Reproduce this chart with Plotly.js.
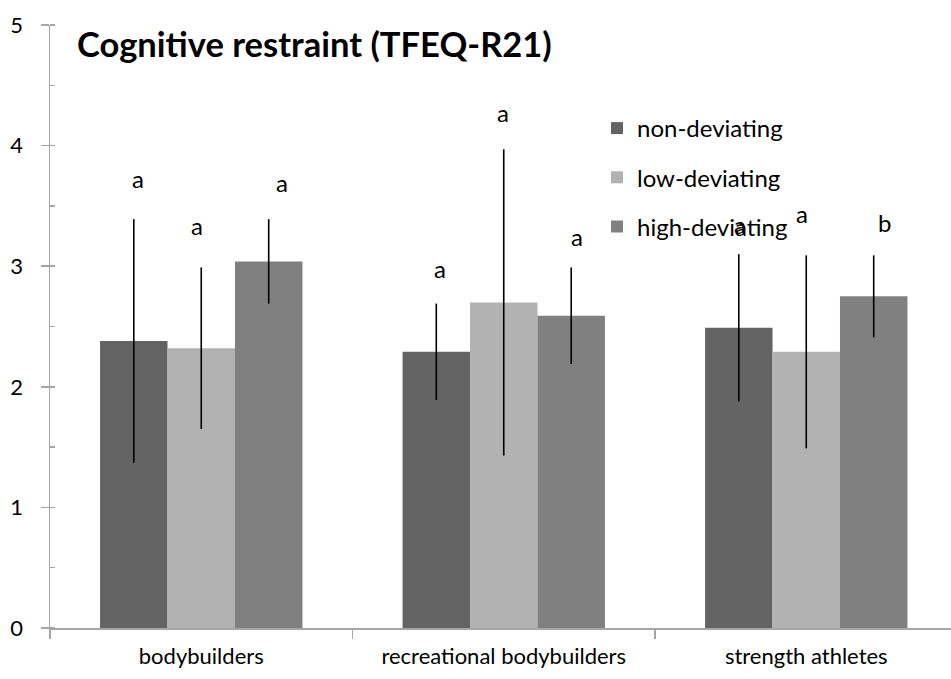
<!DOCTYPE html>
<html>
<head>
<meta charset="utf-8">
<script src="https://cdn.plot.ly/plotly-3.0.1.min.js"></script>
<style>html,body{margin:0;padding:0;background:#fff;}#chart{width:951px;height:679px;}</style>
</head>
<body>
<div id="chart"></div>
<script>
// ---- data ----
var categories = ["bodybuilders", "recreational bodybuilders", "strength athletes"];
var seriesNames = ["non-deviating", "low-deviating", "high-deviating"];
var nonDeviating = [2.38, 2.29, 2.49];
var nonDeviatingErr = [1.01, 0.40, 0.61];
var lowDeviating = [2.32, 2.70, 2.29];
var lowDeviatingErr = [0.67, 1.27, 0.80];
var highDeviating = [3.04, 2.59, 2.75];
var highDeviatingErr = [0.35, 0.40, 0.34];
var nonLetters = ["a", "a", "a"];
var lowLetters = ["a", "a", "a"];
var highLetters = ["a", "a", "b"];
var yTickVals = [0, 1, 2, 3, 4, 5];

// ---- style ----
var FONT = "Lato, 'Open Sans', sans-serif";
var colors = ["#636363", "#b2b2b2", "#808080"];
var values = [nonDeviating, lowDeviating, highDeviating];
var errs = [nonDeviatingErr, lowDeviatingErr, highDeviatingErr];
var letters = [nonLetters, lowLetters, highLetters];
// label nudges (pixels) per series per category
var labelXShift = [[4, 4, 1], [-4, -1, -4], [13, 6, 11]];
var labelYShift = [[41, 35, 30], [42, 37, 42], [37, 31, 33]];

var bargap = 0.331;
var barW = (1 - bargap) / 3;

var traces = [];
for (var s = 0; s < 3; s++) {
  traces.push({
    type: "bar",
    name: seriesNames[s],
    x: categories,
    y: values[s],
    marker: {color: colors[s], line: {width: 0}},
    error_y: {type: "data", array: errs[s], visible: true, color: "#000000", thickness: 1.6, width: 0},
    legendgroup: "g" + s,
    hoverinfo: "skip"
  });
}

var annotations = [];
for (var s = 0; s < 3; s++) {
  for (var i = 0; i < categories.length; i++) {
    annotations.push({
      x: i + (s - 1) * barW,
      y: values[s][i] + errs[s][i],
      xref: "x", yref: "y",
      text: letters[s][i],
      showarrow: false,
      xanchor: "center", yanchor: "middle",
      xshift: labelXShift[s][i],
      yshift: labelYShift[s][i],
      font: {family: FONT, size: 24, color: "#000"}
    });
  }
}

var layout = {
  width: 951, height: 679,
  margin: {l: 50, r: 0, t: 25, b: 51, pad: 0},
  paper_bgcolor: "#ffffff",
  plot_bgcolor: "#ffffff",
  font: {family: FONT, size: 22, color: "#000"},
  title: {
    text: "<b>Cognitive restraint (TFEQ-R21)</b>",
    font: {family: FONT, size: 34.5, color: "#000"},
    xref: "container", yref: "container",
    x: 77 / 951, xanchor: "left",
    y: 1 - 45 / 679, yanchor: "middle"
  },
  barmode: "group",
  bargap: bargap,
  bargroupgap: 0,
  showlegend: true,
  legend: {
    x: (597 - 50) / 901, xanchor: "left",
    y: 1 - (106 - 25) / 603, yanchor: "top",
    bgcolor: "rgba(0,0,0,0)",
    font: {family: FONT, size: 24, color: "#000"},
    tracegroupgap: 15,
    traceorder: "grouped"
  },
  xaxis: {
    type: "category",
    range: [-0.5, -0.5 + 901 / 302.5],
    showline: true, linecolor: "#a6a6a6", linewidth: 1.5,
    ticks: "outside", ticklen: 9, tickcolor: "#a6a6a6", tickwidth: 1.5,
    tickson: "boundaries",
    showgrid: false, zeroline: false,
    tickfont: {family: FONT, size: 22, color: "#000"},
    ticklabelstandoff: 8,
    fixedrange: true
  },
  yaxis: {
    range: [0, 5],
    tickvals: yTickVals,
    showline: true, linecolor: "#a6a6a6", linewidth: 1.5,
    ticks: "outside", ticklen: 8, tickcolor: "#a6a6a6", tickwidth: 1.5,
    minor: {dtick: 0.5, ticks: "inside", ticklen: 5, tickcolor: "#a6a6a6", tickwidth: 1.5, showgrid: false},
    showgrid: false, zeroline: false,
    tickfont: {family: FONT, size: 22, color: "#000"},
    ticklabelstandoff: 13,
    fixedrange: true
  },
  annotations: annotations
};

Plotly.newPlot("chart", traces, layout, {displayModeBar: false, staticPlot: true});
</script>
</body>
</html>
